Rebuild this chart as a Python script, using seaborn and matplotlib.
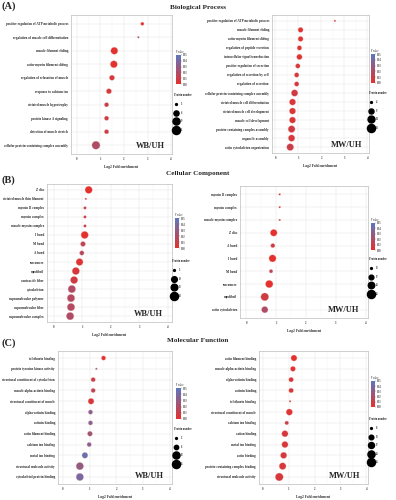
import numpy as np
import pandas as pd
import matplotlib
matplotlib.use("Agg")
import matplotlib.pyplot as plt
import seaborn as sns
from matplotlib.colors import LinearSegmentedColormap, Normalize
from matplotlib.cm import ScalarMappable

# --- данные: GO-обогащение (A) BP, (B) CC, (C) MF ---
bp_wb_terms = ["positive regulation of ATP metabolic process", "regulation of muscle cell differentiation",
               "muscle filament sliding", "actin-myosin filament sliding", "regulation of relaxation of muscle",
               "response to calcium ion", "striated muscle hypertrophy", "protein kinase A signaling",
               "detection of muscle stretch", "cellular protein-containing complex assembly"]
bp_wb_fold = [2.78, 2.61, 1.59, 1.57, 1.49, 1.36, 1.26, 1.26, 1.26, 0.81]
bp_wb_p = [0.002, 0.030, 0.001, 0.001, 0.005, 0.006, 0.010, 0.008, 0.010, 0.020]
bp_wb_n = [4, 3, 9, 9, 6, 6, 5, 5, 5, 11]
bp_wb_breaks = [3, 6, 9, 11]

bp_mw_terms = ["positive regulation of ATP metabolic process", "muscle filament sliding",
               "actin-myosin filament sliding", "regulation of peptide secretion",
               "intracellular signal transduction", "positive regulation of secretion",
               "regulation of secretion by cell", "regulation of secretion",
               "cellular protein-containing complex assembly", "striated muscle cell differentiation",
               "striated muscle cell development", "muscle cell development",
               "protein-containing complex assembly", "organelle assembly", "actin cytoskeleton organization"]
bp_mw_fold = [2.59, 1.10, 1.10, 1.05, 1.05, 0.98, 0.93, 0.93, 0.84, 0.75, 0.75, 0.75, 0.71, 0.71, 0.65]
bp_mw_p = [0.004, 0.002, 0.002, 0.004, 0.003, 0.005, 0.006, 0.006, 0.008, 0.004, 0.004, 0.004, 0.008, 0.006, 0.010]
bp_mw_n = [4, 9, 9, 8, 10, 8, 8, 8, 13, 12, 12, 12, 14, 13, 14]
bp_mw_breaks = [4, 9, 14, 18]

cc_wb_terms = ["Z disc", "striated muscle thin filament", "myosin II complex", "myosin complex",
               "muscle myosin complex", "I band", "M band", "A band", "sarcomere", "myofibril",
               "contractile fiber", "cytoskeleton", "supramolecular polymer", "supramolecular fiber",
               "supramolecular complex"]
cc_wb_fold = [1.23, 1.13, 1.10, 1.10, 1.10, 1.09, 1.03, 0.99, 0.91, 0.78, 0.72, 0.64, 0.61, 0.61, 0.58]
cc_wb_p = [0.0005, 0.012, 0.012, 0.012, 0.012, 0.0005, 0.014, 0.018, 0.003, 0.005, 0.008, 0.020, 0.018, 0.018, 0.020]
cc_wb_n = [15, 3, 4, 4, 4, 15, 8, 7, 14, 15, 15, 16, 16, 16, 16]
cc_wb_breaks = [3, 10, 13, 18]

cc_mw_terms = ["myosin II complex", "myosin complex", "muscle myosin complex", "Z disc", "A band",
               "I band", "M band", "sarcomere", "myofibril", "actin cytoskeleton"]
cc_mw_fold = [1.12, 1.12, 1.12, 0.92, 0.89, 0.88, 0.83, 0.77, 0.62, 0.62]
cc_mw_p = [0.008, 0.008, 0.008, 0.0005, 0.008, 0.0005, 0.014, 0.001, 0.008, 0.020]
cc_mw_n = [13, 13, 13, 22, 16, 23, 15, 24, 25, 21]
cc_mw_breaks = [13, 17, 21, 26]

mf_wb_terms = ["telethonin binding", "protein tyrosine kinase activity", "structural constituent of cytoskeleton",
               "muscle alpha-actinin binding", "structural constituent of muscle", "alpha-actinin binding",
               "actinin binding", "actin filament binding", "calcium ion binding", "metal ion binding",
               "structural molecule activity", "cytoskeletal protein binding"]
mf_wb_fold = [1.52, 1.25, 1.13, 1.13, 1.05, 1.03, 1.03, 1.01, 0.98, 0.82, 0.63, 0.63]
mf_wb_p = [0.002, 0.030, 0.010, 0.015, 0.005, 0.035, 0.035, 0.025, 0.035, 0.045, 0.030, 0.040]
mf_wb_n = [6, 3, 6, 6, 9, 6, 6, 7, 6, 9, 13, 13]
mf_wb_breaks = [3, 6, 12, 15]

mf_mw_terms = ["actin filament binding", "muscle alpha-actinin binding", "alpha-actinin binding",
               "actinin binding", "telethonin binding", "structural constituent of muscle",
               "calcium ion binding", "cation binding", "metal ion binding", "actin binding",
               "protein-containing complex binding", "structural molecule activity"]
mf_mw_fold = [1.20, 1.16, 1.09, 1.09, 1.05, 1.02, 0.92, 0.85, 0.85, 0.80, 0.76, 0.63]
mf_mw_p = [0.0005, 0.002, 0.005, 0.005, 0.010, 0.003, 0.010, 0.005, 0.005, 0.005, 0.005, 0.005]
mf_mw_n = [17, 14, 13, 13, 8, 18, 11, 18, 18, 18, 20, 24]
mf_mw_breaks = [8, 13, 17, 21, 25]

# --- оформление ---
sns.set_theme(style="white")
plt.rcParams['font.family'] = ['Liberation Serif', 'DejaVu Serif']
plt.rcParams['font.weight'] = 'bold'

cmap = LinearSegmentedColormap.from_list("pv", ["#e5302c", "#5b77bf"])
p_norm = Normalize(0, 0.05)
SMIN, SMAX = 1.8, 34

W, H = 396, 500
fig = plt.figure(figsize=(W / 100, H / 100), dpi=100)


def fx(px):
    return px / W


def fy(py):
    return 1 - py / H


def area(n, lo, hi):
    return SMIN + (n - lo) / (hi - lo) * (SMAX - SMIN)


def panel(terms, fold, pval, cnt, breaks, box, xlim, cbar_box, leg_xy, tag, tag_xy):
    x0, y0, x1, y1 = box
    ax = fig.add_axes([fx(x0), fy(y1), fx(x1 - x0), (y1 - y0) / H])
    df = pd.DataFrame({'term': terms, 'fold': fold, 'pval': pval, 'count': cnt})
    lo, hi = breaks[0], breaks[-1]
    sns.scatterplot(data=df, x='fold', y='term', hue='pval', hue_norm=p_norm, palette=cmap,
                    size='count', sizes=(SMIN, SMAX), size_norm=(lo, hi),
                    linewidth=0.2, edgecolor='#f2b0a8', legend=False, ax=ax, zorder=3)
    ax.set_xlim(*xlim)
    ax.set_ylim(len(terms) - 0.35, -0.65)
    ax.set_xticks([0, 1, 2, 3, 4])
    ax.set_xticks([0.5, 1.5, 2.5, 3.5], minor=True)
    ax.grid(True, which='major', color='#e6e6e6', lw=0.35, zorder=0)
    ax.grid(True, which='minor', axis='x', color='#f2f2f2', lw=0.25, zorder=0)
    for s in ax.spines.values():
        s.set_color('#bdbdbd')
        s.set_linewidth(0.5)
    ax.tick_params(axis='both', length=1.2, width=0.3, color='#888888', pad=1)
    ax.tick_params(axis='y', labelsize=2.3)
    ax.tick_params(axis='x', labelsize=2.2, labelcolor='#444444')
    ax.set_ylabel('')
    ax.set_xlabel('Log2 Fold enrichment', fontsize=2.6, fontweight='bold', labelpad=0.8)
    ax.text(0.93, 0.06, tag, transform=ax.transAxes, ha='right', va='center',
            fontsize=6, fontweight='bold')

    # colorbar P value
    cx0, cy0, cx1, cy1 = cbar_box
    cax = fig.add_axes([fx(cx0), fy(cy1), fx(cx1 - cx0), (cy1 - cy0) / H])
    cb = fig.colorbar(ScalarMappable(norm=p_norm, cmap=cmap), cax=cax)
    cb.set_ticks([0, 0.01, 0.02, 0.03, 0.04, 0.05])
    cb.ax.tick_params(labelsize=1.8, length=0.8, width=0.2, pad=0.8, labelcolor='#444444')
    cb.outline.set_visible(False)
    cax.set_title('P value', fontsize=1.9, loc='left', pad=1.5, fontweight='normal')

    # легенда размера
    handles = [ax.scatter([], [], s=area(b, lo, hi), color='black') for b in breaks]
    leg = ax.legend(handles, [str(b) for b in breaks], title='Protein number', loc='upper left',
                    bbox_to_anchor=(fx(leg_xy[0]), fy(leg_xy[1])), bbox_transform=fig.transFigure,
                    frameon=False, fontsize=1.9, title_fontsize=1.9, labelspacing=1.75,
                    handletextpad=0.8, borderpad=0, handlelength=1.6, handleheight=1.2)
    leg._legend_box.align = 'left'

    fig.text(fx(tag_xy[0]), fy(tag_xy[1]), tag_xy[2], fontsize=7.5, fontweight='bold', va='center')


panel(bp_wb_terms, bp_wb_fold, bp_wb_p, bp_wb_n, bp_wb_breaks, (71, 15, 172, 154), (-0.25, 4.04),
      (176, 55, 181, 84), (173, 92), 'WB/UH', (1, 6, '(A)'))
panel(bp_mw_terms, bp_mw_fold, bp_mw_p, bp_mw_n, bp_mw_breaks, (272, 15, 369, 153), (-0.14, 4.07),
      (371, 54, 375, 83), (368, 90), 'MW/UH', (0, 0, ''))
panel(cc_wb_terms, cc_wb_fold, cc_wb_p, cc_wb_n, cc_wb_breaks, (47, 184, 172, 322), (-0.23, 4.15),
      (175, 218, 179, 248), (171, 258), 'WB/UH', (1, 180, '(B)'))
panel(cc_mw_terms, cc_mw_fold, cc_mw_p, cc_mw_n, cc_mw_breaks, (240, 186, 368, 318), (-0.21, 4.08),
      (371, 223, 375, 250), (368, 256), 'MW/UH', (0, 0, ''))
panel(mf_wb_terms, mf_wb_fold, mf_wb_p, mf_wb_n, mf_wb_breaks, (58, 351, 172, 484), (-0.19, 4.09),
      (176, 388, 181, 419), (173, 426), 'WB/UH', (1, 343, '(C)'))
panel(mf_mw_terms, mf_mw_fold, mf_mw_p, mf_mw_n, mf_mw_breaks, (259, 351, 368, 484), (-0.155, 4.07),
      (371, 381, 375, 407), (368, 416), 'MW/UH', (0, 0, ''))

fig.text(0.5, fy(7), 'Biological Process', ha='center', va='center', fontsize=5.2, fontweight='bold')
fig.text(0.5, fy(174), 'Cellular Component', ha='center', va='center', fontsize=5.2, fontweight='bold')
fig.text(0.5, fy(341), 'Molecular Function', ha='center', va='center', fontsize=5.2, fontweight='bold')

fig.savefig('out.png', dpi=100)
